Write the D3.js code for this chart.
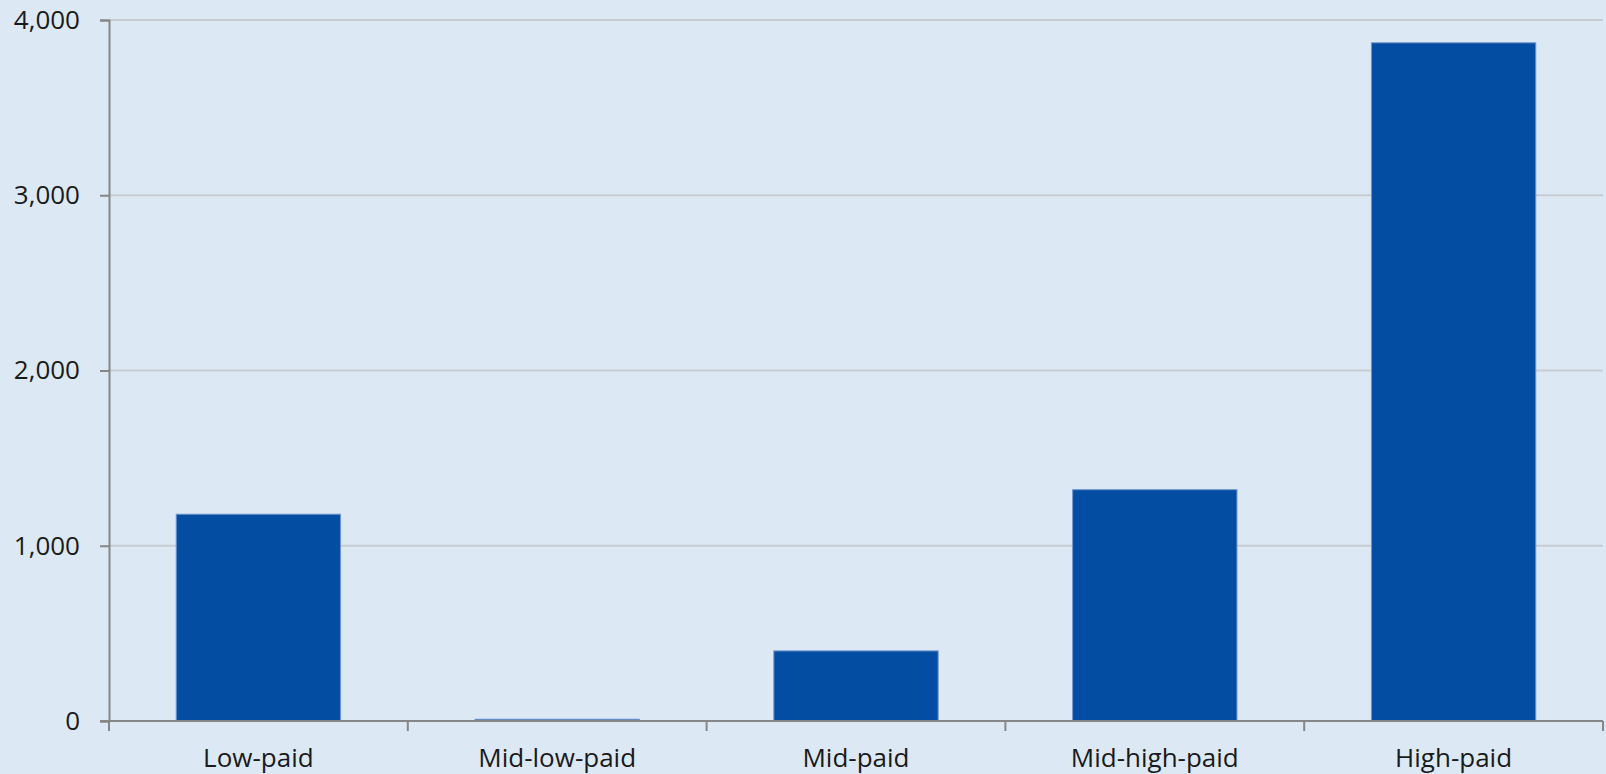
<html>
<head>
<style>
  body { margin: 0; background: #dce9f5; }
  svg text { font-family: "Open Sans", sans-serif; fill: #1a1a1a; }
</style>
</head>
<body>
<svg id="chart" width="1606" height="774"></svg>
<script src="https://cdnjs.cloudflare.com/ajax/libs/d3/7.8.5/d3.min.js"></script>
<script>
  var categories = ["Low-paid", "Mid-low-paid", "Mid-paid", "Mid-high-paid", "High-paid"];
  var values = [1180, 10, 400, 1320, 3870];
  var yTicks = [0, 1000, 2000, 3000, 4000];

  var svg = d3.select("#chart");
  var plotLeft = 109, plotRight = 1603, plotTop = 20, plotBottom = 721;

  var x = d3.scaleBand()
    .domain(categories)
    .range([plotLeft, plotRight])
    .paddingInner(0.45)
    .paddingOuter(0.225);

  var y = d3.scaleLinear()
    .domain([0, 4000])
    .range([plotBottom, plotTop]);

  // gridlines
  svg.append("g")
    .selectAll("line")
    .data(yTicks.filter(d => d > 0))
    .enter()
    .append("line")
    .attr("x1", plotLeft).attr("x2", plotRight)
    .attr("y1", d => y(d)).attr("y2", d => y(d))
    .attr("stroke", "#c8cbd0")
    .attr("stroke-width", 2);

  // bars
  svg.append("g")
    .selectAll("rect")
    .data(values)
    .enter()
    .append("rect")
    .attr("x", (d, i) => x(categories[i]))
    .attr("width", x.bandwidth())
    .attr("y", d => y(d))
    .attr("height", d => plotBottom - y(d))
    .attr("fill", "#034ea2")
    .attr("stroke", "#7396cc")
    .attr("stroke-width", 1);

  // y axis
  var yAxis = svg.append("g")
    .attr("transform", "translate(" + plotLeft + ",0)")
    .call(d3.axisLeft(y).tickValues(yTicks).tickSize(9).tickPadding(20).tickFormat(d3.format(",")));
  yAxis.select(".domain").attr("stroke", "#868686").attr("stroke-width", 2);
  yAxis.selectAll(".tick line").attr("stroke", "#868686").attr("stroke-width", 2);
  yAxis.selectAll("text").attr("font-size", 26).attr("font-family", "Open Sans").attr("fill", "#1a1a1a");

  // x axis with ticks at category boundaries
  var edges = d3.range(categories.length + 1).map(i => plotLeft + i * (plotRight - plotLeft) / categories.length);
  var xg = svg.append("g");
  xg.append("line")
    .attr("x1", plotLeft - 9).attr("x2", plotRight)
    .attr("y1", plotBottom).attr("y2", plotBottom)
    .attr("stroke", "#868686").attr("stroke-width", 2);
  xg.selectAll(".edge")
    .data(edges)
    .enter()
    .append("line")
    .attr("x1", d => d).attr("x2", d => d)
    .attr("y1", plotBottom).attr("y2", plotBottom + 10)
    .attr("stroke", "#868686").attr("stroke-width", 2);
  xg.selectAll("text")
    .data(categories)
    .enter()
    .append("text")
    .attr("x", d => x(d) + x.bandwidth() / 2)
    .attr("y", 767)
    .attr("text-anchor", "middle")
    .attr("font-size", 26)
    .text(d => d);
</script>
</body>
</html>
